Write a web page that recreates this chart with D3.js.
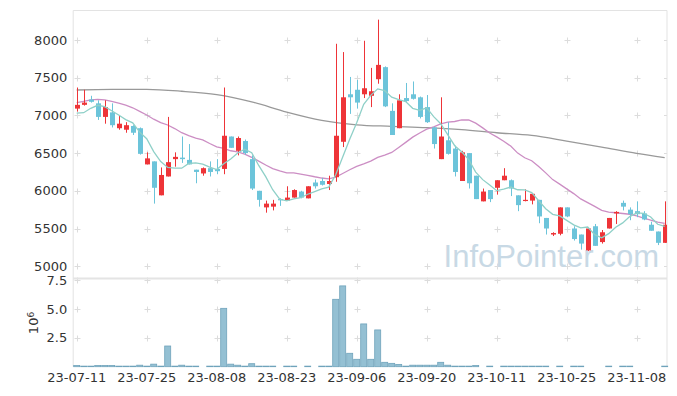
<!DOCTYPE html>
<meta charset="utf-8">
<style>
body { margin: 0; background: #fff; }
svg text { font-family: "DejaVu Sans", sans-serif; }
.tick text { fill: #333; font-size: 13px; }
</style>
<body>
<svg width="677" height="396"></svg>
<script src="https://cdn.jsdelivr.net/npm/d3@7"></script>
<script>
// trading days shown
var dates = [
  "2023-07-11","2023-07-12","2023-07-13","2023-07-14","2023-07-17","2023-07-18","2023-07-19","2023-07-20","2023-07-21","2023-07-24",
  "2023-07-25","2023-07-26","2023-07-27","2023-07-28","2023-07-31","2023-08-01","2023-08-02","2023-08-03","2023-08-04","2023-08-07",
  "2023-08-08","2023-08-09","2023-08-10","2023-08-11","2023-08-14","2023-08-16","2023-08-17","2023-08-18","2023-08-21","2023-08-22",
  "2023-08-23","2023-08-24","2023-08-25","2023-08-28","2023-08-29","2023-08-30","2023-08-31","2023-09-01","2023-09-04","2023-09-05",
  "2023-09-06","2023-09-07","2023-09-08","2023-09-11","2023-09-12","2023-09-13","2023-09-14","2023-09-15","2023-09-18","2023-09-19",
  "2023-09-20","2023-09-21","2023-09-22","2023-09-25","2023-09-26","2023-09-27","2023-10-04","2023-10-05","2023-10-06","2023-10-10",
  "2023-10-11","2023-10-12","2023-10-13","2023-10-16","2023-10-17","2023-10-18","2023-10-19","2023-10-20","2023-10-23","2023-10-24",
  "2023-10-25","2023-10-26","2023-10-27","2023-10-30","2023-10-31","2023-11-01","2023-11-02","2023-11-03","2023-11-06","2023-11-07",
  "2023-11-08","2023-11-09","2023-11-10","2023-11-13","2023-11-14"
];
var open = [
  7090,7140,7210,7160,6980,7040,6830,6810,6860,6830,
  6350,6390,5940,6190,6420,6440,6410,6280,6230,6300,
  6290,6290,6720,6530,6660,6420,6000,5780,5790,5890,
  5870,5910,5990,5900,6110,6130,6090,6180,6650,7280,
  7340,7280,7260,7480,7640,7060,6830,7230,7280,7240,
  7110,6840,6420,6670,6560,6130,6500,6200,5860,6010,
  6040,6140,6140,5940,5870,5870,5880,5640,5420,5430,
  5780,5500,5420,5210,5530,5320,5500,5700,5840,5750,
  5730,5700,5550,5460,5310
];
var high = [
  7370,7340,7260,7200,7200,7160,7000,6910,6870,6840,
  6510,6390,6310,6980,6510,6720,6620,6280,6310,6390,
  6420,7370,6720,6720,6680,6470,6000,5870,5880,5900,
  6060,6020,6000,6060,6150,6170,6200,7950,7840,7510,
  7470,7990,7630,8270,7650,7160,7280,7430,7450,7250,
  7270,6850,7240,6910,6600,6530,6500,6200,6030,6010,
  6140,6300,6150,5940,6020,5960,5880,5640,5450,5780,
  5780,5530,5420,5500,5560,5480,5640,5730,5870,5780,
  5860,5730,5590,5460,5860
];
var low = [
  7050,7130,7170,6940,6890,6840,6810,6770,6740,6480,
  6350,5830,5940,6190,6320,6370,6350,6100,6200,6190,
  6220,6220,6570,6470,6480,6010,5790,5710,5740,5800,
  5870,5910,5900,5900,6030,6070,6010,6120,6580,7020,
  7090,7230,7110,7420,7110,6740,6830,7180,7210,6960,
  6900,6560,6420,6480,6190,6130,6030,5890,5860,5850,
  5950,6140,5930,5730,5860,5820,5570,5420,5400,5410,
  5650,5340,5220,5200,5270,5300,5500,5560,5740,5610,
  5650,5610,5470,5280,5310
];
var close = [
  7140,7170,7180,6980,7110,6870,6890,6870,6770,6490,
  6430,6040,6210,6380,6450,6420,6350,6250,6300,6250,
  6260,6730,6570,6700,6500,6030,5880,5830,5830,5880,
  5910,6010,5910,6060,6060,6080,6130,6730,7240,7240,
  7170,7360,7320,7670,7120,6740,7200,7190,7220,6980,
  6910,6620,6720,6490,6250,6510,6100,5890,5990,5890,
  6140,6200,6030,5810,5880,5960,5660,5500,5440,5780,
  5660,5360,5300,5500,5270,5450,5640,5720,5790,5690,
  5690,5620,5470,5310,5550
];
// volume in millions of shares
var volume = [
  0.10,0.05,0.05,0.10,0.10,0.10,0.05,0.05,0.05,0.13,
  0.05,0.22,0.05,1.79,0.05,0.13,0.05,0.05,0,0.05,
  0.05,5.05,0.22,0.13,0.05,0.26,0.05,0.05,0.05,0,
  0.05,0.05,0,0.05,0,0.05,0.05,5.83,6.99,1.16,
  0.64,3.70,0.64,3.18,0.38,0.29,0.20,0.05,0.13,0.13,
  0.13,0.13,0.38,0.13,0.05,0.05,0.05,0.10,0,0.05,
  0,0.05,0.05,0.05,0.05,0.05,0.05,0.05,0,0.05,
  0,0.05,0.05,0,0,0,0.05,0,0.05,0.05,
  0,0,0,0,0.05
];
// closes of the 19 sessions before the first shown day (estimated, feed the moving averages)
var priorCloses = [6780,6810,6840,7250,7300,7350,7400,7450,7430,7410,7150,7090,7030,7400,7520,7140,6890,6780,7200];
// long moving average at these day indexes
var maLongIdx = [0,5,10,15,20,25,30,35,40,45,50,55,60,65,70,75,80,84];
var maLong = [7337,7345,7345,7320,7275,7180,7045,6935,6875,6855,6837,6810,6770,6735,6660,6580,6495,6440];

var priceTicks = [5000,5500,6000,6500,7000,7500,8000];
var volTicks = [2.5,5.0,7.5];
var dateTickStep = 10;

var svg = d3.select("svg");
var left = 73.2, right = 667, priceTop = 10.5, priceBottom = 278, volTop = 279.5, volBottom = 366.7;

var x = d3.scaleBand().domain(dates).range([left, 668.2]).padding(0);
var bw = x.bandwidth();
var cx = function(i) { return x(dates[i]) + bw / 2; };
var y = d3.scaleLinear().domain([5000, 8000]).range([266.2, 40]);
var yv = d3.scaleLinear().domain([0, 7.5]).range([volBottom, 280]);

var xTickDates = dates.filter(function(d, i) { return i % dateTickStep === 0; });

svg.append("clipPath").attr("id", "pclip")
  .append("rect").attr("x", left).attr("y", priceTop).attr("width", right - left).attr("height", priceBottom - priceTop);

// grid crosses
var cross = svg.append("g").attr("stroke", "#dcdcdc").attr("stroke-width", 1);
xTickDates.forEach(function(d) {
  var xx = Math.round(x(d) + bw / 2) + 0.5;
  priceTicks.forEach(function(v) {
    var yy = Math.round(y(v)) + 0.5;
    cross.append("path").attr("d", "M" + (xx - 3) + "," + yy + "h6M" + xx + "," + (yy - 3) + "v6");
  });
  volTicks.forEach(function(v) {
    var yy = Math.round(yv(v)) + 0.5;
    cross.append("path").attr("d", "M" + (xx - 3) + "," + yy + "h6M" + xx + "," + (yy - 3) + "v6");
  });
});
priceTicks.forEach(function(v) {
  var yy = Math.round(y(v)) + 0.5;
  cross.append("path").attr("d", "M" + (right - 3) + "," + yy + "h3");
});

// watermark
svg.append("text")
  .attr("x", 659).attr("y", 266.5)
  .attr("text-anchor", "end")
  .style("font-family", "'Liberation Sans', Arial, sans-serif")
  .style("font-size", "31px")
  .attr("fill", "#c8d9e5")
  .text("InfoPointer.com");

// frame
var frame = svg.append("g").attr("fill", "none").attr("stroke", "#e3e3e3");
frame.append("path").attr("d", "M" + left + "," + priceTop + "H" + right + "V" + volBottom);
frame.append("path").attr("d", "M" + left + "," + priceTop + "V" + volBottom);
svg.append("rect").attr("x", left).attr("y", 277.5).attr("width", right - left).attr("height", 2).attr("fill", "#e4e4e4");

// moving averages from closes
var allCloses = priorCloses.concat(close);
function movingAvg(n) {
  return close.map(function(c, i) {
    var k = i + priorCloses.length;
    return d3.mean(allCloses.slice(k - n + 1, k + 1));
  });
}
var ma5 = movingAvg(5), ma20 = movingAvg(20);

var pg = svg.append("g").attr("clip-path", "url(#pclip)");

var lineIdx = d3.line().x(function(d) { return cx(d[0]); }).y(function(d) { return y(d[1]); });
pg.append("path")
  .datum(maLongIdx.map(function(i, k) { return [i, maLong[k]]; }))
  .attr("fill", "none").attr("stroke", "#999").attr("stroke-width", 1.3)
  .attr("d", lineIdx.curve(d3.curveMonotoneX));
lineIdx.curve(d3.curveLinear);
pg.append("path")
  .datum(ma20.map(function(v, i) { return [i, v]; }))
  .attr("fill", "none").attr("stroke", "#cc8ec4").attr("stroke-width", 1.3)
  .attr("d", lineIdx);

// candles
var up = "#ee3438", down = "#6cc4da";
var candles = pg.selectAll(".candle").data(dates).enter().append("g");
candles.append("line")
  .attr("x1", function(d, i) { return Math.round(cx(i)) + 0.5; })
  .attr("x2", function(d, i) { return Math.round(cx(i)) + 0.5; })
  .attr("y1", function(d, i) { return y(high[i]); })
  .attr("y2", function(d, i) { return y(low[i]); })
  .attr("stroke", function(d, i) { return close[i] >= open[i] ? up : down; });
candles.append("rect")
  .attr("x", function(d, i) { return Math.round(cx(i)) - 2; })
  .attr("width", 5)
  .attr("y", function(d, i) { return y(Math.max(open[i], close[i])); })
  .attr("height", function(d, i) { return Math.max(1.2, Math.abs(y(open[i]) - y(close[i]))); })
  .attr("fill", function(d, i) { return close[i] >= open[i] ? up : down; });

pg.append("path")
  .datum(ma5.map(function(v, i) { return [i, v]; }))
  .attr("fill", "none").attr("stroke", "#8fd0c8").attr("stroke-width", 1.3)
  .attr("d", lineIdx);

// volume bars
svg.append("g").selectAll("rect").data(volume).enter().append("rect")
  .attr("x", function(d, i) { return x(dates[i]) + 0.5; })
  .attr("width", bw - 1)
  .attr("y", function(d) { return yv(d); })
  .attr("height", function(d) { return volBottom - yv(d); })
  .attr("fill", "#94c0d3")
  .attr("stroke", "#6fa3bb")
  .attr("stroke-width", function(d) { return d > 0 ? 0.8 : 0; });

// axes
var ay = svg.append("g").attr("transform", "translate(" + left + ",0)")
  .call(d3.axisLeft(y).tickValues(priceTicks).tickSize(0).tickPadding(6).tickFormat(d3.format("d")));
ay.select(".domain").remove();

var av = svg.append("g").attr("transform", "translate(" + left + ",0)")
  .call(d3.axisLeft(yv).tickValues(volTicks).tickSize(0).tickPadding(6).tickFormat(d3.format(".1f")));
av.select(".domain").remove();

var ax = svg.append("g").attr("transform", "translate(0," + volBottom + ")")
  .call(d3.axisBottom(x).tickValues(xTickDates).tickSize(0).tickPadding(6)
    .tickFormat(function(d) { return d.slice(2); }));
ax.select(".domain").remove();

var yl = svg.append("text")
  .attr("transform", "translate(38,323) rotate(-90)")
  .attr("text-anchor", "middle")
  .attr("fill", "#333")
  .style("font-size", "13px");
yl.append("tspan").text("10");
yl.append("tspan").attr("dy", "-0.5em").style("font-size", "9px").text("6");
</script>
</body>
